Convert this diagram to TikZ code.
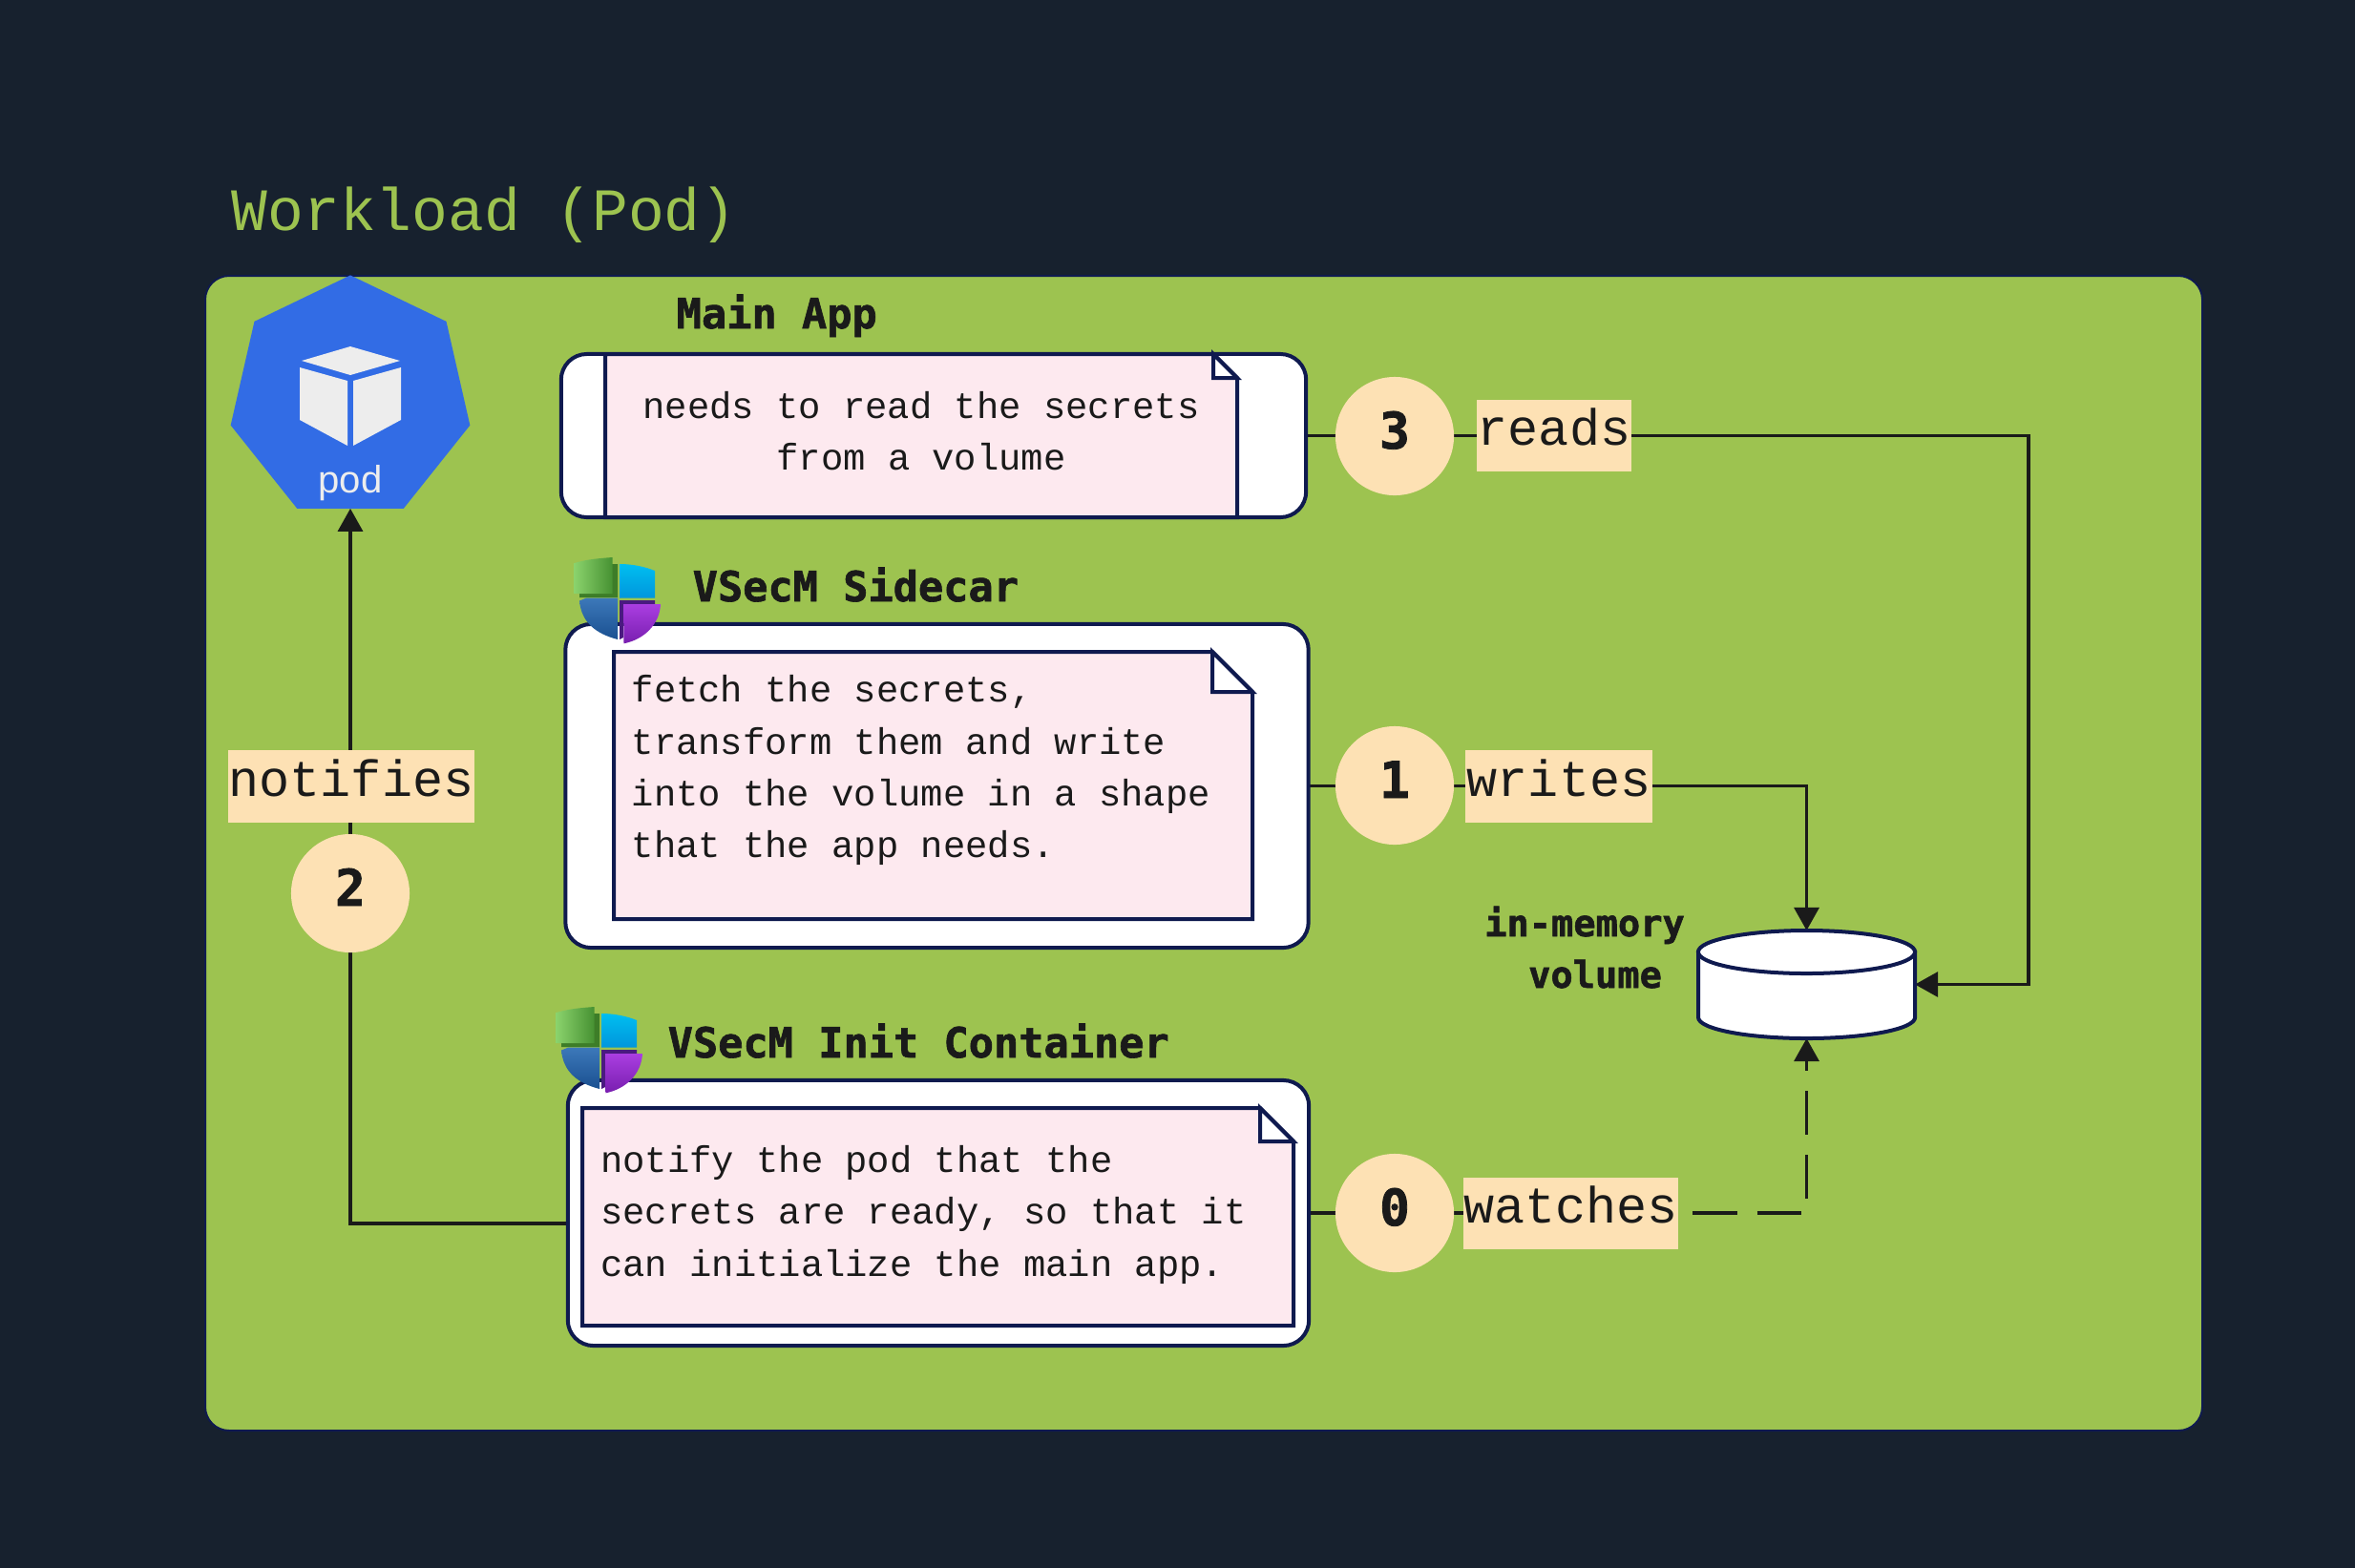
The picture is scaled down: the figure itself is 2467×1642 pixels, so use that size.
\documentclass[tikz,border=0pt]{standalone}
\usepackage{fontspec}
\setmainfont{Liberation Sans}
\setmonofont{Liberation Mono}
\newfontfamily\headfont{DejaVu Sans Mono}[BoldFeatures={FakeBold=1.5}]
\usetikzlibrary{arrows.meta,shapes.geometric,backgrounds}
\pgfdeclarelayer{edges}
\pgfsetlayers{background,edges,main}

\definecolor{nightbg}{HTML}{17212E}
\definecolor{leaf}{HTML}{9DC350}
\definecolor{navy}{HTML}{0F1A4F}
\definecolor{ink}{HTML}{1A1A1A}
\definecolor{peach}{HTML}{FDE1B4}
\definecolor{blush}{HTML}{FDE9EF}
\definecolor{podblue}{HTML}{326CE5}
\definecolor{cubewhite}{HTML}{EDEDED}
\definecolor{shieldleafa}{HTML}{8AD26C}
\definecolor{shieldleafb}{HTML}{469132}
\definecolor{shieldleafc}{HTML}{3D7D28}
\definecolor{shieldskya}{HTML}{00BEF0}
\definecolor{shieldskyb}{HTML}{0096DC}
\definecolor{shieldseaa}{HTML}{3C78B9}
\definecolor{shieldseab}{HTML}{1A5091}
\definecolor{shieldpluma}{HTML}{AA3EE1}
\definecolor{shieldplumb}{HTML}{781EAF}
\definecolor{shieldplumc}{HTML}{4A1A80}

\tikzset{
  container/.style = {draw=navy, fill=white, line width=0.04cm, rounded corners=0.27cm, outer sep=0pt},
  paper/.style = {draw=navy, fill=blush, line width=0.04cm, line join=miter},
  fold/.style = {draw=navy, fill=white, line width=0.04cm, line join=miter},
  notetext/.style = {text=ink, font=\ttfamily\fontsize{11.05}{15.45}\selectfont, inner sep=0pt},
  heading/.style = {text=ink, font=\headfont\bfseries\fontsize{12.4}{15}\selectfont, inner sep=0pt, anchor=base west},
  volumetext/.style = {text=ink, font=\headfont\bfseries\fontsize{11}{15}\selectfont, inner sep=0pt, anchor=base},
  stepdot/.style = {circle, fill=peach, minimum size=1.24cm, inner sep=0pt, outer sep=0pt, text=ink, text height=0.38cm, text depth=0.12cm, font=\headfont\bfseries\fontsize{15}{15}\selectfont},
  verb/.style = {fill=peach, text=ink, inner sep=0pt, outer sep=0pt, minimum height=0.75cm, text height=0.45cm, text depth=0.25cm, font=\ttfamily\fontsize{15.2}{15.2}\selectfont},
  edge/.style = {draw=ink, line width=0.032cm, line join=miter},
  arrowedge/.style = {edge, -{Triangle[length=0.24cm,width=0.26cm]}},
  drum/.style = {draw=navy, fill=white, line width=0.04cm},
  shield/.pic = {
    \fill[shieldleafc] (47,62) -- (81,62) -- (81,31) -- (87,31) -- (87,66) -- (47,66) -- cycle;
    \shade[left color=shieldleafa, right color=shieldleafb] (41.7,30) .. controls (55,26) and (68,25) .. (81.7,24) -- (81.7,62) -- (41.7,62) -- cycle;
    \shade[top color=shieldskya, bottom color=shieldskyb] (89,31) .. controls (103,31) and (116,34) .. (126,38) -- (126,66.7) -- (89,66.7) -- cycle;
    \fill[shieldplumc] (89,69) -- (126,69) -- (126,73) -- (93,73) -- (93,108) -- (89,110) -- cycle;
    \shade[top color=shieldseaa, bottom color=shieldseab] (47,69.5) -- (54,66.7) -- (87,66.7) -- (87,110) .. controls (64,104) and (49,92) .. (47,69.5) -- cycle;
    \shade[top color=shieldpluma, bottom color=shieldplumb] (93,73) -- (132,73) .. controls (131,94) and (115,110) .. (93.5,114.3) -- cycle;
  }
}

\newcommand{\NotePaper}[5]{
  \draw[paper] (#1,#2) -- ({#3-#5},#2) -- (#3,{#2+#5}) -- (#3,#4) -- (#1,#4) -- cycle;
  \draw[fold] ({#3-#5},#2) -- (#3,{#2+#5}) -- ({#3-#5},{#2+#5}) -- cycle;
}

\begin{document}
\begin{tikzpicture}[x=0.01cm,y=-0.01cm]
  \useasboundingbox (0,0) rectangle (2467,1642);

  % backdrop
  \begin{pgfonlayer}{background}
    \fill[nightbg] (-3,-3) rectangle (2470,1645);
    \draw[navy, fill=leaf, line width=0.02cm, rounded corners=0.25cm] (215,289) rectangle (2307,1499);
  \end{pgfonlayer}

  \node[text=leaf, font=\ttfamily\fontsize{17.9}{20}\selectfont, inner sep=0pt, anchor=base west] (title) at (242,241) {Workload (Pod)};

  % pod badge
  \node[regular polygon, regular polygon sides=7, fill=podblue, minimum size=2.57cm, inner sep=0pt, outer sep=0pt] (pod) at (367,417) {};
  \fill[cubewhite] (367,363) -- (419,378) -- (367,393) -- (316,378) -- cycle;
  \fill[cubewhite] (314,385) -- (364,399) -- (364,467) -- (314,440) -- cycle;
  \fill[cubewhite] (370,399) -- (420,385) -- (420,440) -- (370,467) -- cycle;
  \node[text=cubewhite, font=\fontsize{11.4}{12}\selectfont, inner sep=0pt, anchor=base] (podname) at (367,516) {pod};

  % main app
  \node[heading] (appname) at (708,344) {Main App};
  \node[container, minimum width=7.8cm, minimum height=1.71cm] (app) at (978,456.5) {};
  \NotePaper{634}{371}{1296}{542}{25}
  \node[notetext, align=center, anchor=north] (apptext) at (965,409.5) {needs to read the secrets\\from a volume};

  % sidecar
  \node[heading] (sidecarname) at (725,630) {VSecM Sidecar};
  \node[container, minimum width=7.78cm, minimum height=3.39cm] (sidecar) at (981.5,823.5) {};
  \NotePaper{643}{683}{1312}{963}{42}
  \node[notetext, align=left, anchor=north west] (sidecartext) at (661,707) {fetch the secrets,\\transform them and write\\into the volume in a shape\\that the app needs.};
  \pic at (560,560) {shield};

  % init container
  \node[heading] (initname) at (699,1108) {VSecM Init Container};
  \node[container, minimum width=7.76cm, minimum height=2.78cm] (init) at (983,1271) {};
  \NotePaper{610}{1161}{1355}{1389}{35}
  \node[notetext, align=left, anchor=north west] (inittext) at (628.5,1199.5) {notify the pod that the\\secrets are ready, so that it\\can initialize the main app.};
  \pic at (541,1031) {shield};

  % volume
  \node[minimum width=2.27cm, minimum height=1.13cm, inner sep=0pt, outer sep=0pt] (vol) at (1892.5,1031.5) {};
  \draw[drum] (1779,997.5) -- (1779,1066) arc[start angle=180, end angle=360, x radius=1.135cm, y radius=0.22cm] -- (2006,997.5) -- cycle;
  \draw[drum] (1892.5,997.5) ellipse[x radius=1.135cm, y radius=0.225cm];
  \node[volumetext] (volname_a) at (1660,981) {in-memory};
  \node[volumetext] (volname_b) at (1671,1035) {volume};

  % steps and their verbs
  \node[stepdot] (s_3) at (1461,457) {3};
  \node[verb, minimum width=1.62cm] (v_3) at (1628,456.5) {reads};
  \node[stepdot] (s_1) at (1461,823) {1};
  \node[verb, minimum width=1.96cm] (v_1) at (1633,824) {writes};
  \node[stepdot] (s_0) at (1461,1271) {0};
  \node[verb, minimum width=2.25cm] (v_0) at (1645.5,1271) {watches};
  \node[stepdot] (s_2) at (367,936) {2};
  \node[verb, minimum width=2.58cm] (v_2) at (368,824) {notifies};

  \coordinate (readsturn) at (2125,456.5);
  \coordinate (watchturn) at (1892.5,1271);
  \coordinate (notifyturn) at (367,1282);

  % connectors
  \begin{pgfonlayer}{edges}
    \draw[arrowedge] (app.east) -- (readsturn) |- (vol.east);
    \draw[arrowedge] (sidecar.east) -- (sidecar.east -| vol.north) -- (vol.north);
    \draw[arrowedge, dash pattern=on 0.46cm off 0.21cm] (init.east) -- (watchturn) -- (vol.south);
    \draw[arrowedge] (init.west |- notifyturn) -- (notifyturn) -- (pod.south);
  \end{pgfonlayer}
\end{tikzpicture}
\end{document}
